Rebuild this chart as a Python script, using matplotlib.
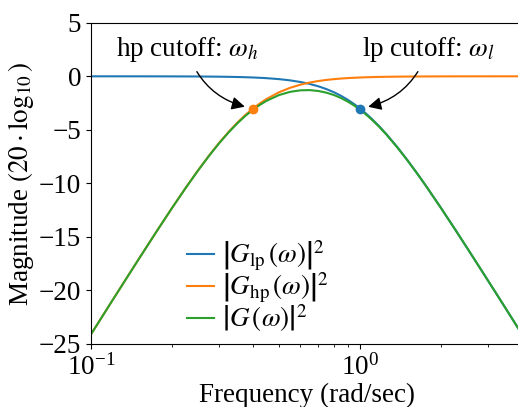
import numpy as np
import matplotlib
matplotlib.use("Agg")
import matplotlib.pyplot as plt

plt.rcParams["font.family"] = "serif"
plt.rcParams["font.serif"] = ["Liberation Serif", "DejaVu Serif"]
plt.rcParams["mathtext.fontset"] = "stix"
plt.rcParams["font.size"] = 19.5

# frequency grid (rad/sec) and magnitudes in dB
freq = [0.1, 0.12, 0.15, 0.175, 0.2, 0.225, 0.25, 0.275, 0.3, 0.325, 0.35,
        0.375, 0.4, 0.425, 0.45, 0.5, 0.55, 0.6, 0.65, 0.7, 0.75, 0.8, 0.85,
        0.9, 0.95, 1.0, 1.05, 1.1, 1.175, 1.25, 1.375, 1.5, 1.625, 1.75, 2.0,
        2.25, 2.5, 2.75, 3.0, 3.25, 3.5, 3.9]
lp_db = [0.0, -0.001, -0.002, -0.004, -0.007, -0.011, -0.017, -0.025, -0.035,
         -0.048, -0.065, -0.085, -0.11, -0.139, -0.175, -0.263, -0.38, -0.53,
         -0.713, -0.934, -1.194, -1.49, -1.824, -2.19, -2.588, -3.01, -3.455,
         -3.92, -4.633, -5.37, -6.604, -7.83, -9.016, -10.16, -12.30, -14.254,
         -16.03, -17.65, -19.14, -20.51, -21.79, -23.66]
hp_db = [-24.10, -20.95, -17.12, -14.52, -12.30, -10.41, -8.78, -7.385, -6.19,
         -5.178, -4.32, -3.607, -3.01, -2.516, -2.107, -1.49, -1.071, -0.783,
         -0.582, -0.44, -0.338, -0.263, -0.208, -0.166, -0.134, -0.11, -0.09,
         -0.075, -0.058, -0.045, -0.031, -0.022, -0.016, -0.012, -0.007,
         -0.004, -0.003, -0.002, -0.001, 0.0, 0.0, 0.0]
total_db = [-24.10, -20.95, -17.13, -14.52, -12.31, -10.42, -8.80, -7.41, -6.23,
            -5.23, -4.39, -3.69, -3.12, -2.66, -2.28, -1.75, -1.45, -1.31,
            -1.29, -1.37, -1.53, -1.75, -2.03, -2.36, -2.72, -3.12, -3.55,
            -3.99, -4.69, -5.41, -6.64, -7.85, -9.03, -10.17, -12.31, -14.26,
            -16.03, -17.65, -19.14, -20.51, -21.79, -23.66]

w_h, w_l = 0.4, 1.0
cutoff_db = -3.01

fig = plt.figure(figsize=(5.18, 4.07), dpi=100)
ax = fig.add_axes([0.1757, 0.155, 0.832, 0.789])

ax.semilogx(freq, lp_db, color="C0", lw=1.5,
            label=r"$\left|G_{\rm lp}\,\left(\omega\right)\right|^2$")
ax.semilogx(freq, hp_db, color="C1", lw=1.5,
            label=r"$\left|G_{\rm hp}\,\left(\omega\right)\right|^2$")
ax.semilogx(freq, total_db, color="C2", lw=1.5,
            label=r"$\left|G\,\left(\omega\right)\right|^2$")
ax.plot(w_h, cutoff_db, "o", color="C1", ms=6)
ax.plot(w_l, cutoff_db, "o", color="C0", ms=6)

ax.annotate(r"hp cutoff: $\omega_h$", xy=(w_h, cutoff_db), xytext=(0.2275, 2.5),
            ha="center", va="center",
            arrowprops=dict(arrowstyle="-|>", color="k", connectionstyle="arc3,rad=0.3",
                            shrinkA=4, shrinkB=6))
ax.annotate(r"lp cutoff: $\omega_l$", xy=(w_l, cutoff_db), xytext=(1.79, 2.5),
            ha="center", va="center",
            arrowprops=dict(arrowstyle="-|>", color="k", connectionstyle="arc3,rad=-0.3",
                            shrinkA=4, shrinkB=6))

ax.set_xlim(0.1, 4)
ax.set_ylim(-25, 5)
ax.set_yticks([5, 0, -5, -10, -15, -20, -25])
ax.set_xlabel("Frequency (rad/sec)", labelpad=2)
ax.set_ylabel(r"Magnitude $(20 \cdot \log_{10})$", labelpad=2)
ax.legend(loc="lower left", bbox_to_anchor=(0.223, 0.03), frameon=False,
          handlelength=1.0, handletextpad=0.3, labelspacing=-0.1,
          borderpad=0, borderaxespad=0)

fig.savefig("out.png", dpi=100)
